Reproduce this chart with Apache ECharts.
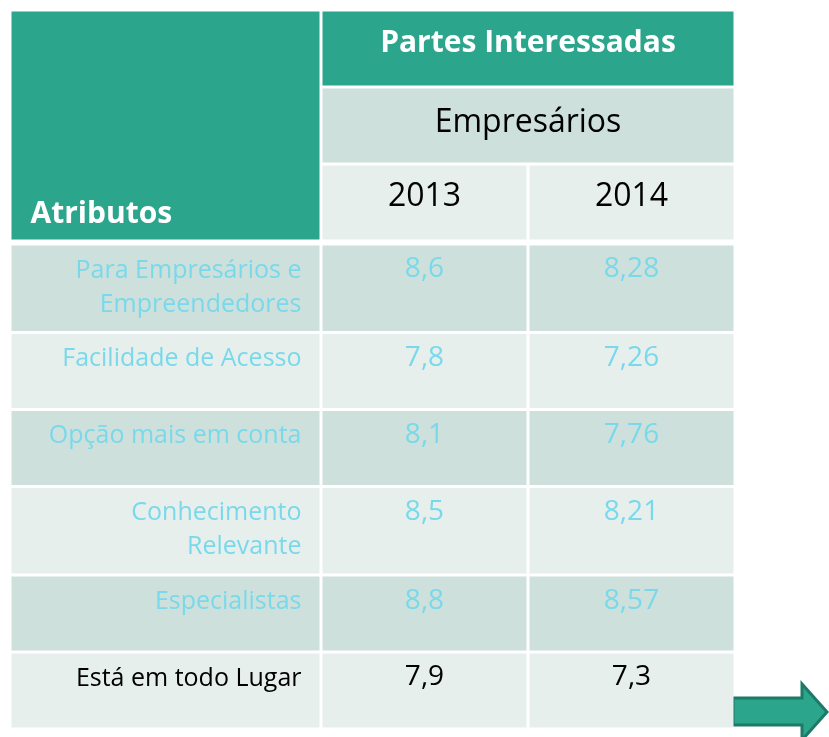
<!DOCTYPE html>
<html>
<head>
<meta charset="utf-8">
<title>Atributos - Partes Interessadas</title>
<script src="https://cdn.jsdelivr.net/npm/echarts@6/dist/echarts.min.js"></script>
<style>
  html, body { margin: 0; padding: 0; background: #fff; }
  #main { width: 829px; height: 737px; }
</style>
</head>
<body>
<div id="main"></div>
<script>
// dados da tabela
var years = ["2013", "2014"];
var headerLevels = ["Partes Interessadas", "Empresários", "Ano"];
var attributes = [
  "Para Empresários e\nEmpreendedores",
  "Facilidade de Acesso",
  "Opção mais em conta",
  "Conhecimento\nRelevante",
  "Especialistas",
  "Está em todo Lugar"
];
var values2013 = [8.6, 7.8, 8.1, 8.5, 8.8, 7.9];
var values2014 = [8.28, 7.26, 7.76, 8.21, 8.57, 7.3];

var TEAL = "#2ca58d";
var DARK = "#cde0dc";
var LIGHT = "#e7efed";
var CYAN = "#79d9ea";
var FONT = "'Open Sans', sans-serif";
var GAP = 3;

var chartDom = document.getElementById("main");
var myChart = echarts.init(chartDom);

function fmt(v) {
  return String(v).replace(".", ",");
}
function rowFill(i) {
  return i % 2 === 0 ? DARK : LIGHT;
}
function textColor(i) {
  return i === attributes.length - 1 ? "#000" : CYAN;
}

// altura relativa de cada linha: linhas com duas linhas de texto ficam mais altas
var rowStart = [];
var rowEnd = [];
var acc = 0;
attributes.forEach(function (a) {
  var lines = a.split("\n").length;
  rowStart.push(acc);
  acc += 1 + 0.15 * (lines - 1);
  rowEnd.push(acc);
});
var totalRows = acc;

// retangulo de celula a partir do centro e tamanho dados pelo eixo
function cellRect(center, size, span) {
  var w = size[0] * (span || 1);
  return {
    x: center[0] - size[0] / 2 + GAP / 2,
    y: center[1] - size[1] / 2 + GAP / 2,
    width: w - GAP,
    height: size[1] - GAP
  };
}
// celula do corpo: x por categoria, y pelo eixo de valor (inicio/fim da linha)
function bodyRect(api, xi, row) {
  var top = api.coord([xi, rowStart[row]]);
  var bottom = api.coord([xi, rowEnd[row]]);
  var w = api.size([1, 0])[0];
  return {
    x: top[0] - w / 2 + GAP / 2,
    y: top[1] + GAP / 2,
    width: w - GAP,
    height: bottom[1] - top[1] - GAP
  };
}

var hiddenCat = function (data, gridIndex, inverse) {
  return {
    type: "category",
    gridIndex: gridIndex,
    data: data,
    inverse: !!inverse,
    show: false,
    boundaryGap: true
  };
};
var hiddenRows = function (gridIndex) {
  return {
    type: "value",
    gridIndex: gridIndex,
    min: 0,
    max: totalRows,
    inverse: true,
    show: false
  };
};

var headerRightData = [
  [0, 0, headerLevels[0], 2],
  [0, 1, headerLevels[1], 2],
  [0, 2, years[0], 1],
  [1, 2, years[1], 1]
];
var bodyRightData = [];
attributes.forEach(function (a, i) {
  bodyRightData.push([0, rowStart[i], values2013[i], i]);
  bodyRightData.push([1, rowStart[i], values2014[i], i]);
});
var bodyLeftData = attributes.map(function (a, i) {
  return [0, rowStart[i], a, i];
});

var option = {
  backgroundColor: "#fff",
  animation: false,
  grid: [
    { left: 10, top: 10, width: 311, height: 231 }, // Atributos
    { left: 321, top: 10, right: 94, height: 231 }, // cabecalho direito
    { left: 10, top: 244, width: 311, bottom: 8 }, // nomes dos atributos
    { left: 321, top: 244, right: 94, bottom: 8 } // valores
  ],
  xAxis: [
    hiddenCat(["Atributos"], 0),
    hiddenCat(years, 1),
    hiddenCat(["Atributos"], 2),
    hiddenCat(years, 3)
  ],
  yAxis: [
    hiddenCat(["Atributos"], 0),
    hiddenCat(headerLevels, 1, true),
    hiddenRows(2),
    hiddenRows(3)
  ],
  series: [
    {
      type: "custom",
      xAxisIndex: 0,
      yAxisIndex: 0,
      data: [[0, 0, "Atributos"]],
      renderItem: function (params, api) {
        var c = api.coord([api.value(0), api.value(1)]);
        var s = api.size([1, 1]);
        var r = cellRect(c, s);
        return {
          type: "group",
          children: [
            { type: "rect", shape: r, style: { fill: TEAL } },
            {
              type: "text",
              style: {
                text: "Atributos",
                x: r.x + 19,
                y: r.y + r.height - 10,
                align: "left",
                verticalAlign: "bottom",
                fill: "#fff",
                font: "bold 30px " + FONT
              }
            }
          ]
        };
      }
    },
    {
      type: "custom",
      xAxisIndex: 1,
      yAxisIndex: 1,
      data: headerRightData,
      renderItem: function (params, api) {
        var d = headerRightData[params.dataIndex];
        var c = api.coord([d[0], d[1]]);
        var s = api.size([1, 1]);
        var r = cellRect(c, s, d[3]);
        var lvl = d[1];
        var fill = lvl === 0 ? TEAL : (lvl === 1 ? DARK : LIGHT);
        var font = lvl === 0 ? "bold 30px " + FONT : "32px " + FONT;
        var ty = lvl === 0 ? r.y + r.height / 2 - 5 : (lvl === 1 ? r.y + 18 : r.y + 15);
        return {
          type: "group",
          children: [
            { type: "rect", shape: r, style: { fill: fill } },
            {
              type: "text",
              style: {
                text: d[2],
                x: r.x + r.width / 2,
                y: ty,
                align: "center",
                verticalAlign: lvl === 0 ? "middle" : "top",
                fill: lvl === 0 ? "#fff" : "#000",
                font: font
              }
            }
          ]
        };
      }
    },
    {
      type: "custom",
      xAxisIndex: 2,
      yAxisIndex: 2,
      data: bodyLeftData,
      renderItem: function (params, api) {
        var d = bodyLeftData[params.dataIndex];
        var i = d[3];
        var r = bodyRect(api, 0, i);
        return {
          type: "group",
          children: [
            { type: "rect", shape: r, style: { fill: rowFill(i) } },
            {
              type: "text",
              style: {
                text: d[2],
                x: r.x + r.width - 18,
                y: r.y + 8,
                align: "right",
                verticalAlign: "top",
                lineHeight: 34,
                fill: textColor(i),
                font: "25px " + FONT
              }
            }
          ]
        };
      }
    },
    {
      type: "custom",
      xAxisIndex: 3,
      yAxisIndex: 3,
      data: bodyRightData,
      renderItem: function (params, api) {
        var d = bodyRightData[params.dataIndex];
        var i = d[3];
        var r = bodyRect(api, d[0], i);
        return {
          type: "group",
          children: [
            { type: "rect", shape: r, style: { fill: rowFill(i) } },
            {
              type: "text",
              style: {
                text: fmt(d[2]),
                x: r.x + r.width / 2,
                y: r.y + 7,
                align: "center",
                verticalAlign: "top",
                lineHeight: 34,
                fill: textColor(i),
                font: "28px " + FONT
              }
            }
          ]
        };
      }
    }
  ],
  graphic: [
    {
      // seta decorativa no canto inferior direito
      type: "polygon",
      shape: {
        points: [[733, 698], [802, 698], [802, 684], [827, 712], [802, 740], [802, 725], [733, 725]]
      },
      style: { fill: TEAL, stroke: "#1e7a68", lineWidth: 3 }
    }
  ]
};

option && myChart.setOption(option);
</script>
</body>
</html>
